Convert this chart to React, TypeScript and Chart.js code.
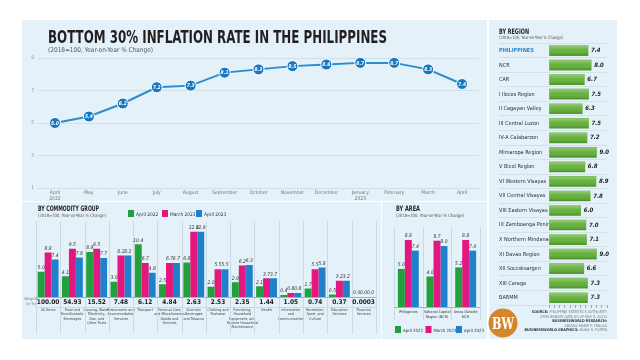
import React, { useEffect, useRef } from "react";
import { Chart, registerables } from "chart.js";
Chart.register(...registerables);

const months: (string | string[])[] = [["April", "2022"], "May", "June", "July", "August", "September", "October", "November", "December", ["January", "2023"], "February", "March", "April"];
const bottom30Rate = [5.0, 5.4, 6.2, 7.2, 7.3, 8.1, 8.3, 8.5, 8.6, 8.7, 8.7, 8.3, 7.4];

const commodityWeights = ["100.00", "54.93", "15.52", "7.48", "6.12", "4.84", "2.63", "2.53", "2.35", "1.44", "1.05", "0.74", "0.37", "0.0003"];
const commodityNames: string[][] = [
  ["All Items"],
  ["Food and", "Non-Alcoholic", "Beverages"],
  ["Housing, Water,", "Electricity,", "Gas, and", "Other Fuels"],
  ["Restaurants and", "Accommodation", "Services"],
  ["Transport"],
  ["Personal Care,", "and Miscellaneous", "Goods and", "Services"],
  ["Alcoholic", "Beverages", "and Tobacco"],
  ["Clothing and", "Footwear"],
  ["Furnishing,", "Household", "Equipment, and", "Routine Household", "Maintenance"],
  ["Health"],
  ["Information", "and", "Communication"],
  ["Recreation,", "Sport, and", "Culture"],
  ["Education", "Services"],
  ["Financial", "Services"],
];
const commodityApr2022 = [5.0, 4.1, 8.9, 3.0, 10.4, 2.5, 6.8, 2.0, 2.9, 2.1, 0.4, 1.7, 0.5, 0.0];
const commodityMar2023 = [8.8, 9.5, 9.5, 8.2, 6.7, 6.7, 12.9, 5.5, 6.2, 3.7, 0.8, 5.5, 3.2, 0.0];
const commodityApr2023 = [7.4, 7.8, 7.7, 8.2, 4.8, 6.7, 12.9, 5.5, 6.3, 3.7, 0.8, 5.8, 3.2, 0.0];

const areaNames: string[][] = [["Philippines"], ["National Capital", "Region (NCR)"], ["Areas Outside", "NCR"]];
const areaApr2022 = [5.0, 4.0, 5.2];
const areaMar2023 = [8.8, 8.7, 8.8];
const areaApr2023 = [7.4, 8.0, 7.4];

const regionNames = ["PHILIPPINES", "NCR", "CAR", "I Ilocos Region", "II Cagayan Valley", "III Central Luzon", "IV-A Calabarzon", "Mimaropa Region", "V Bicol Region", "VI Western Visayas", "VII Central Visayas", "VIII Eastern Visayas", "IX Zamboanga Peninsula", "X Northern Mindanao", "XI Davao Region", "XII Soccsksargen", "XIII Caraga", "BARMM"];
const regionRates = [7.4, 8.0, 6.7, 7.5, 6.3, 7.5, 7.2, 9.0, 6.8, 8.9, 7.8, 6.0, 7.0, 7.1, 9.0, 6.6, 7.3, 7.3];

const seriesNames = ["April 2022", "March 2023", "April 2023"];

const GREEN = "#22a03d";
const MAGENTA = "#e3177f";
const BLUE = "#1f80cc";
const PANEL = "#e4f1f8";
const COND = "'DejaVu Sans Condensed','Liberation Sans Narrow','DejaVu Sans',sans-serif";

const lineValuePlugin = {
  id: "lineValues",
  afterDatasetsDraw(chart: any) {
    const ctx = chart.ctx;
    const meta = chart.getDatasetMeta(0);
    const data = chart.data.datasets[0].data as number[];
    ctx.save();
    ctx.font = `italic bold 5px ${COND}`;
    ctx.fillStyle = "#fff";
    ctx.textAlign = "center";
    ctx.textBaseline = "middle";
    meta.data.forEach((el: any, i: number) => ctx.fillText(data[i].toFixed(1), el.x, el.y + 0.5));
    ctx.restore();
  },
};

const barValuePlugin = (size: number) => ({
  id: "barValues",
  afterDatasetsDraw(chart: any) {
    const ctx = chart.ctx;
    ctx.save();
    ctx.font = `italic ${size}px ${COND}`;
    ctx.fillStyle = "#333";
    ctx.textAlign = "center";
    ctx.textBaseline = "bottom";
    chart.data.datasets.forEach((ds: any, di: number) => {
      const meta = chart.getDatasetMeta(di);
      meta.data.forEach((el: any, i: number) => {
        ctx.fillText((ds.data[i] as number).toFixed(1), el.x, el.y - 1.5);
      });
    });
    ctx.restore();
  },
});

const boundaryPlugin = (below: number, underline: number) => ({
  id: "boundaries",
  beforeDatasetsDraw(chart: any) {
    const { ctx, chartArea } = chart;
    const xs: any = chart.scales.x;
    const n = xs.getLabels().length;
    const half = (xs.getPixelForValue(1) - xs.getPixelForValue(0)) / 2;
    ctx.save();
    ctx.strokeStyle = "#c9dae6";
    ctx.lineWidth = 1;
    for (let i = 0; i <= n; i++) {
      const x = Math.round(xs.getPixelForValue(0) - half + i * 2 * half) + 0.5;
      ctx.beginPath();
      ctx.moveTo(x, chartArea.top);
      ctx.lineTo(x, chartArea.bottom + below);
      ctx.stroke();
    }
    ctx.strokeStyle = "#9fb1bd";
    ctx.beginPath();
    ctx.moveTo(chartArea.left, Math.round(chartArea.bottom) + 0.5);
    ctx.lineTo(chartArea.right, Math.round(chartArea.bottom) + 0.5);
    ctx.stroke();
    if (underline > 0) {
      ctx.strokeStyle = "#c9dae6";
      ctx.beginPath();
      ctx.moveTo(chartArea.left, Math.round(chartArea.bottom + underline) + 0.5);
      ctx.lineTo(chartArea.right, Math.round(chartArea.bottom + underline) + 0.5);
      ctx.stroke();
    }
    ctx.restore();
  },
});

const weightsPlugin = {
  id: "weights",
  afterDraw(chart: any) {
    const { ctx, chartArea } = chart;
    const xs: any = chart.scales.x;
    ctx.save();
    ctx.font = `bold 6.5px ${COND}`;
    ctx.fillStyle = "#222";
    ctx.textAlign = "center";
    ctx.textBaseline = "middle";
    commodityWeights.forEach((w, i) => ctx.fillText(w, xs.getPixelForValue(i), chartArea.bottom + 5.5));
    ctx.restore();
  },
};

const regionBarPlugin = {
  id: "regionBars",
  afterDatasetsDraw(chart: any) {
    const ctx = chart.ctx;
    const meta = chart.getDatasetMeta(0);
    const data = chart.data.datasets[0].data as number[];
    ctx.save();
    meta.data.forEach((el: any) => {
      const h = el.height;
      const top = el.y - h / 2;
      const g = ctx.createLinearGradient(0, top, 0, top + h);
      g.addColorStop(0, "rgba(255,255,255,0.35)");
      g.addColorStop(0.45, "rgba(255,255,255,0.05)");
      g.addColorStop(1, "rgba(0,50,0,0.25)");
      ctx.fillStyle = g;
      ctx.fillRect(el.base, top, el.x - el.base, h);
    });
    ctx.font = `italic bold 6px ${COND}`;
    ctx.fillStyle = "#1d1d1d";
    ctx.textAlign = "left";
    ctx.textBaseline = "middle";
    meta.data.forEach((el: any, i: number) => ctx.fillText(data[i].toFixed(1), el.x + 3, el.y));
    ctx.restore();
  },
};

function groupedDatasets(a: number[], b: number[], c: number[]) {
  return [a, b, c].map((d, i) => ({
    label: seriesNames[i],
    data: d,
    backgroundColor: [GREEN, MAGENTA, BLUE][i],
  }));
}

export default function App() {
  const lineRef = useRef<HTMLCanvasElement>(null);
  const comRef = useRef<HTMLCanvasElement>(null);
  const areaRef = useRef<HTMLCanvasElement>(null);
  const regRef = useRef<HTMLCanvasElement>(null);

  useEffect(() => {
    const charts: Chart[] = [];
    const small = { family: COND, size: 5 };

    charts.push(
      new Chart(lineRef.current!, {
        type: "line",
        data: {
          labels: months as any,
          datasets: [
            {
              data: bottom30Rate,
              borderColor: "#2b8ccf",
              borderWidth: 2,
              pointRadius: 5.5,
              pointBackgroundColor: "#1777c0",
              pointBorderColor: "#ffffff",
              pointBorderWidth: 1,
              tension: 0,
            },
          ],
        },
        options: {
          animation: false,
          responsive: false,
          maintainAspectRatio: false,
          layout: { padding: { top: 10, right: 8, left: 0, bottom: 0 } },
          plugins: { legend: { display: false }, tooltip: { enabled: false } },
          scales: {
            x: {
              offset: true,
              grid: { display: true, drawOnChartArea: false, offset: true, tickLength: 2, color: "#c9dbe6" },
              border: { display: false },
              ticks: { font: small, color: "#777", padding: 0, maxRotation: 0, autoSkip: false },
              afterFit: (s: any) => { s.height = 18; },
            },
            y: {
              min: 1,
              max: 9,
              ticks: { stepSize: 2, font: small, color: "#999", padding: 4 },
              grid: { color: "#cfe0ea", drawTicks: false },
              border: { display: false },
              afterFit: (s: any) => { s.width = 16; },
            },
          },
        } as any,
        plugins: [lineValuePlugin],
      })
    );

    charts.push(
      new Chart(comRef.current!, {
        type: "bar",
        data: { labels: commodityNames as any, datasets: groupedDatasets(commodityApr2022, commodityMar2023, commodityApr2023) },
        options: {
          animation: false,
          responsive: false,
          maintainAspectRatio: false,
          layout: { padding: { top: 4, right: 3, left: 14, bottom: 0 } },
          datasets: { bar: { barPercentage: 1, categoryPercentage: 0.86 } },
          plugins: { legend: { display: false }, tooltip: { enabled: false } },
          scales: {
            x: {
              grid: { display: false, drawTicks: false, tickLength: 0 },
              border: { display: false },
              ticks: { font: { family: COND, size: 3.7, lineHeight: 1.15 }, color: "#444", padding: 11, autoSkip: false, maxRotation: 0 },
              afterFit: (s: any) => { s.height = 42; },
            },
            y: { display: false, min: 0, max: 15 },
          },
        } as any,
        plugins: [boundaryPlugin(37, 10), barValuePlugin(5), weightsPlugin],
      })
    );

    charts.push(
      new Chart(areaRef.current!, {
        type: "bar",
        data: { labels: areaNames as any, datasets: groupedDatasets(areaApr2022, areaMar2023, areaApr2023) },
        options: {
          animation: false,
          responsive: false,
          maintainAspectRatio: false,
          layout: { padding: { top: 5, right: 5, left: 12, bottom: 0 } },
          datasets: { bar: { barPercentage: 1, categoryPercentage: 0.73 } },
          plugins: { legend: { display: false }, tooltip: { enabled: false } },
          scales: {
            x: {
              grid: { display: false, drawTicks: false, tickLength: 0 },
              border: { display: false },
              ticks: { font: { family: COND, size: 3.8, lineHeight: 1.2 }, color: "#333", padding: 3, autoSkip: false, maxRotation: 0 },
              afterFit: (s: any) => { s.height = 18; },
            },
            y: { display: false, min: 0, max: 10.5 },
          },
        } as any,
        plugins: [boundaryPlugin(13, 0), barValuePlugin(5)],
      })
    );

    charts.push(
      new Chart(regRef.current!, {
        type: "bar",
        data: {
          labels: regionNames,
          datasets: [{ data: regionRates, backgroundColor: "#5fae34", barThickness: 10 }],
        },
        options: {
          indexAxis: "y",
          animation: false,
          responsive: false,
          maintainAspectRatio: false,
          layout: { padding: { top: 1, right: 10, left: 2, bottom: 0 } },
          plugins: { legend: { display: false }, tooltip: { enabled: false } },
          scales: {
            y: {
              grid: { offset: true, tickLength: 50, color: "#cfdde7", lineWidth: 0.8 },
              border: { display: false },
              ticks: {
                crossAlign: "far",
                font: (c: any) => ({ family: COND, size: 5.5, weight: c.index === 0 ? "bold" : "normal" }),
                color: (c: any) => (c.index === 0 ? "#2a88cc" : "#23304a"),
                autoSkip: false,
                padding: 0,
              },
              afterFit: (s: any) => { s.width = 50; },
            },
            x: {
              min: 0,
              max: 11,
              ticks: { display: false, stepSize: 1 },
              grid: { drawOnChartArea: false, tickLength: 3, color: "#9aa9b3" },
              border: { display: false },
              afterFit: (s: any) => { s.height = 10; },
            },
          },
        } as any,
        plugins: [regionBarPlugin],
      })
    );

    return () => charts.forEach((c) => c.destroy());
  }, []);

  const abs = (l: number, t: number, w: number, h: number, extra: any = {}) => ({
    position: "absolute" as const, left: l, top: t, width: w, height: h, ...extra,
  });

  const legend = (x: number, y: number, gap: number, box: number, fs: number) =>
    seriesNames.map((n, i) => (
      <g key={n}>
        <rect x={x + i * gap} y={y - box + 1} width={box - 1} height={box} fill={[GREEN, MAGENTA, BLUE][i]} />
        <text x={x + i * gap + box + 1} y={y} fontSize={fs} fill="#333" fontFamily={COND}>{n}</text>
      </g>
    ));

  return (
    <div style={{ position: "fixed", left: 0, top: 0, width: 640, height: 360, background: "#fff", overflow: "hidden" }}>
      <div style={abs(22, 20, 465, 181, { background: PANEL })} />
      <div style={abs(22, 202, 359, 137, { background: PANEL })} />
      <div style={abs(382, 202, 105, 137, { background: PANEL })} />
      <div style={abs(489, 20, 128, 319, { background: PANEL })} />

      <canvas ref={lineRef} width={465} height={158} style={abs(22, 48, 465, 158)} />
      <canvas ref={comRef} width={360} height={122} style={abs(22, 217, 360, 122)} />
      <canvas ref={areaRef} width={103} height={103} style={abs(382, 222, 103, 103)} />
      <canvas ref={regRef} width={120} height={275} style={abs(497, 40, 120, 275)} />

      <svg width={640} height={360} style={abs(0, 0, 640, 360, { pointerEvents: "none" })}>
        <text x={48} y={43} fontSize={18} fontWeight={800} fill="#231f20" fontFamily={COND} textLength={339} lengthAdjust="spacingAndGlyphs">
          BOTTOM 30% INFLATION RATE IN THE PHILIPPINES
        </text>
        <text x={48} y={52} fontSize={6.5} fill="#555" fontFamily={COND} textLength={105} lengthAdjust="spacingAndGlyphs">
          (2018=100, Year-on-Year % Change)
        </text>

        <text x={38} y={210.5} fontSize={7.5} fontWeight={800} fill="#231f20" fontFamily={COND} textLength={61} lengthAdjust="spacingAndGlyphs">
          BY COMMODITY GROUP
        </text>
        <text x={38} y={217} fontSize={4.5} fill="#555" fontFamily={COND} textLength={68} lengthAdjust="spacingAndGlyphs">
          (2018=100, Year-on-Year % Change)
        </text>
        {legend(128, 216, 34, 7, 4.8)}
        <text x={31} y={300} fontSize={3.8} fill="#777" fontFamily={COND} textAnchor="middle">Weights</text>
        <text x={31} y={304.5} fontSize={3.8} fill="#777" fontFamily={COND} textAnchor="middle">(in %)</text>

        <text x={396} y={210.5} fontSize={7.5} fontWeight={800} fill="#231f20" fontFamily={COND} textLength={24} lengthAdjust="spacingAndGlyphs">
          BY AREA
        </text>
        <text x={396} y={217} fontSize={4.5} fill="#555" fontFamily={COND} textLength={68} lengthAdjust="spacingAndGlyphs">
          (2018=100, Year-on-Year % Change)
        </text>
        {legend(395, 332, 30.5, 7, 4.3)}

        <text x={499} y={33.5} fontSize={7.5} fontWeight={800} fill="#231f20" fontFamily={COND} textLength={30} lengthAdjust="spacingAndGlyphs">
          BY REGION
        </text>
        <text x={499} y={39} fontSize={4.5} fill="#555" fontFamily={COND} textLength={64} lengthAdjust="spacingAndGlyphs">
          (2018=100, Year-on-Year % Change)
        </text>

        <circle cx={503} cy={323} r={14.5} fill="#d4862a" />
        <text x={503} y={329} fontSize={16} fontWeight={700} fill="#fff" fontFamily="'DejaVu Serif','Liberation Serif',serif" textAnchor="middle" textLength={22} lengthAdjust="spacingAndGlyphs">
          BW
        </text>

        <g fontFamily={COND} fontSize={3.7} textAnchor="end">
          <text x={607} y={313} fill="#777"><tspan fontWeight={700} fill="#23304a">SOURCE: </tspan>PHILIPPINE STATISTICS AUTHORITY</text>
          <text x={607} y={317.5} fill="#777">(PRELIMINARY DATA AS OF MAY 5, 2023)</text>
          <text x={607} y={322} fontWeight={700} fill="#23304a">BUSINESSWORLD RESEARCH:</text>
          <text x={607} y={326.5} fill="#777">ABIGAIL MARIE P. YRAOLA</text>
          <text x={607} y={331} fill="#777"><tspan fontWeight={700} fill="#23304a">BUSINESSWORLD GRAPHICS: </tspan>BONG R. FORTIN</text>
        </g>
      </svg>
    </div>
  );
}
